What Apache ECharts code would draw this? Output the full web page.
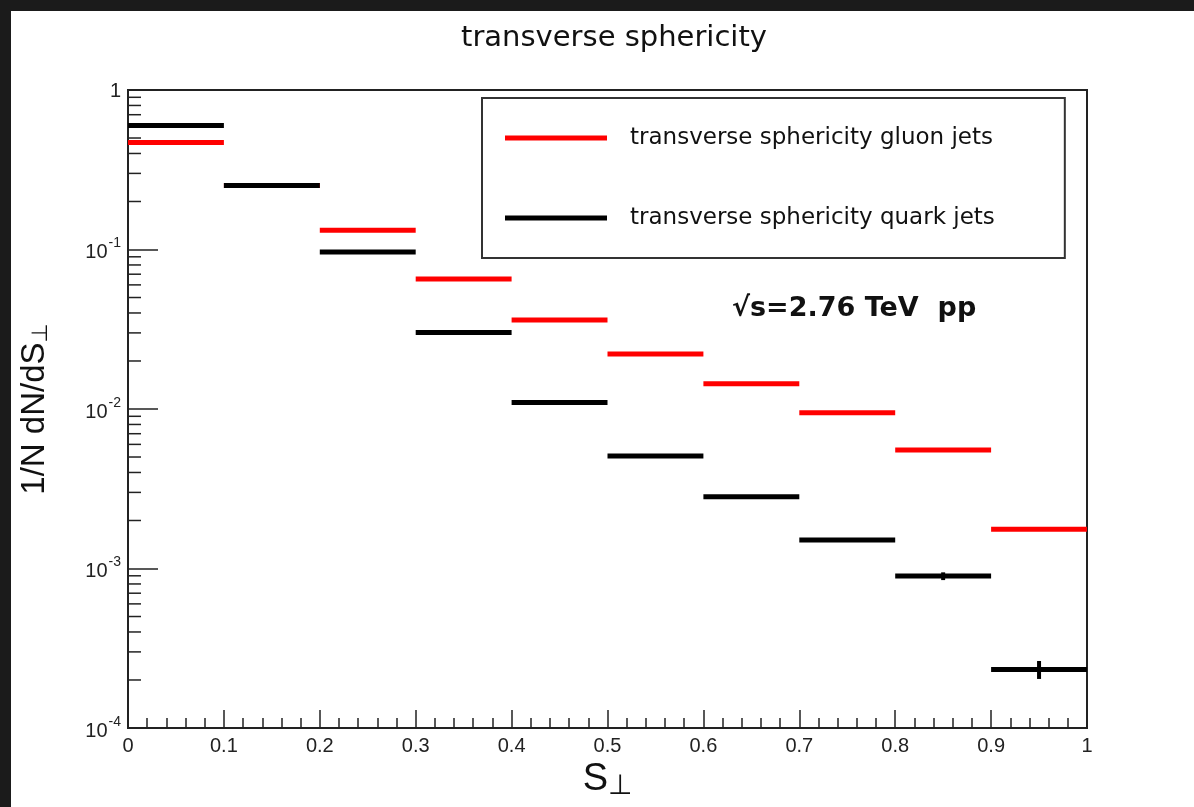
<!DOCTYPE html>
<html><head><meta charset="utf-8">
<script src="https://cdn.jsdelivr.net/npm/echarts@6/dist/echarts.min.js"></script>
<style>
html,body{margin:0;padding:0;background:#1b1b1b;width:1194px;height:807px;overflow:hidden}
#chart{position:absolute;left:11px;top:11px;width:1183px;height:796px;background:#fff}
</style></head><body><div id="chart"></div>
<script>
// ---- data ----
const binLow  = [0.0, 0.1, 0.2, 0.3, 0.4, 0.5, 0.6, 0.7, 0.8, 0.9];
const binHigh = [0.1, 0.2, 0.3, 0.4, 0.5, 0.6, 0.7, 0.8, 0.9, 1.0];
const gluonValues = [0.468, 0.252, 0.132, 0.0653, 0.0362, 0.0221, 0.0144, 0.00946, 0.00554, 0.00176];
const gluonErrors = [0.003, 0.001, 0.0008, 0.0004, 0.0002, 0.00015, 0.0001, 0.00007, 0.00005, 0.00004];
const quarkValues = [0.598, 0.252, 0.0965, 0.0302, 0.0110, 0.00508, 0.00282, 0.00151, 0.000896, 0.000233];
const quarkErrors = [0.002, 0.001, 0.0005, 0.0003, 0.0001, 0.00006, 0.00005, 0.00003, 0.00005, 0.00003];
const seriesNames = ['transverse sphericity gluon jets', 'transverse sphericity quark jets'];
const xTickLabels = ['0', '0.1', '0.2', '0.3', '0.4', '0.5', '0.6', '0.7', '0.8', '0.9', '1'];
const yTickExponents = [-4, -3, -2, -1, 0];
const yMinorMantissas = [2, 3, 4, 5, 6, 7, 8, 9];
const yMinorDecades = [1e-4, 1e-3, 1e-2, 1e-1];

function binData(vals, errs) {
  return vals.map((v, i) => [binLow[i], binHigh[i], v, errs[i]]);
}
const minorTickData = [];
yMinorDecades.forEach(d => yMinorMantissas.forEach(m => minorTickData.push([0, d * m])));

function renderBins(params, api) {
  const lo = api.value(0), hi = api.value(1), v = api.value(2), e = api.value(3);
  const p0 = api.coord([lo, v]), p1 = api.coord([hi, v]);
  const mid = (lo + hi) / 2;
  const e0 = api.coord([mid, v - e]), e1 = api.coord([mid, v + e]);
  const color = api.visual('color');
  return {
    type: 'group',
    children: [
      { type: 'line', shape: { x1: p0[0], y1: p0[1], x2: p1[0], y2: p1[1] }, style: { stroke: color, lineWidth: 5 } },
      { type: 'line', shape: { x1: e0[0], y1: e0[1], x2: e1[0], y2: e1[1] }, style: { stroke: color, lineWidth: 4 } }
    ]
  };
}
function renderMinorTick(params, api) {
  const p = api.coord([api.value(0), api.value(1)]);
  return { type: 'line', shape: { x1: p[0], y1: p[1], x2: p[0] + 13, y2: p[1] }, style: { stroke: '#222', lineWidth: 1.5 } };
}

const chart = echarts.init(document.getElementById('chart'), null, { renderer: 'canvas' });
chart.setOption({
  animation: false,
  backgroundColor: '#fff',
  title: [
    { text: 'transverse sphericity', left: 598, top: 8, textAlign: 'center',
      textStyle: { fontFamily: 'DejaVu Sans', fontSize: 29, fontWeight: 'normal', color: '#111' } },
    { text: '√s=2.76 TeV  pp', left: 716, top: 279,
      textStyle: { fontFamily: 'DejaVu Sans', fontSize: 27, fontWeight: 'bold', color: '#111' } }
  ],
  legend: {
    orient: 'vertical', left: 471, top: 87,
    padding: [27, 70, 27, 23],
    itemWidth: 102, itemHeight: 5, itemGap: 54,
    backgroundColor: '#fff', borderColor: '#333', borderWidth: 2,
    selectedMode: false,
    data: [{ name: seriesNames[0], icon: 'rect' }, { name: seriesNames[1], icon: 'rect' }],
    textStyle: { fontFamily: 'DejaVu Sans', fontSize: 23, color: '#111', lineHeight: 26, padding: [0, 0, 0, 18] }
  },
  grid: { left: 117, right: 107, top: 79, bottom: 79, containLabel: false, outerBoundsMode: 'none',
    show: true, borderColor: '#222', borderWidth: 2, backgroundColor: '#fff' },
  xAxis: {
    type: 'value', min: 0, max: 1, interval: 0.1,
    name: '{s|S}{sub|⊥}', nameLocation: 'middle', nameGap: 33, nameMoveOverlap: false,
    nameTextStyle: {
      rich: {
        s: { fontFamily: 'Liberation Sans', fontSize: 38, color: '#111', lineHeight: 40, verticalAlign: 'top' },
        sub: { fontFamily: 'DejaVu Sans', fontSize: 28, color: '#111', lineHeight: 28, padding: [24, 0, 0, 0], verticalAlign: 'bottom' }
      }
    },
    axisLine: { show: true, lineStyle: { color: '#222', width: 2 } },
    axisTick: { show: true, inside: true, length: 18, lineStyle: { color: '#222', width: 1.5 } },
    minorTick: { show: true, splitNumber: 5, length: 10, lineStyle: { color: '#222', width: 1.5 } },
    splitLine: { show: false },
    axisLabel: {
      margin: 8, fontFamily: 'Liberation Sans', fontSize: 20, color: '#222',
      formatter: v => xTickLabels[Math.round(v * 10)]
    }
  },
  yAxis: {
    type: 'log', logBase: 10, min: 1e-4, max: 1,
    name: '{m|1/N dN/dS}{sub|⊥}', nameLocation: 'middle', nameGap: 76, nameRotate: 90, nameMoveOverlap: false,
    nameTextStyle: {
      rich: {
        m: { fontFamily: 'Liberation Sans', fontSize: 33, color: '#111', lineHeight: 34, verticalAlign: 'top' },
        sub: { fontFamily: 'DejaVu Sans', fontSize: 22, color: '#111', lineHeight: 22, padding: [20, 0, 0, 0], verticalAlign: 'bottom' }
      }
    },
    axisLine: { show: true, lineStyle: { color: '#222', width: 2 } },
    axisTick: { show: true, inside: true, length: 30, lineStyle: { color: '#222', width: 1.5 } },
    splitLine: { show: false },
    axisLabel: {
      margin: 7, color: '#222',
      formatter: v => {
        const ex = Math.round(Math.log10(v));
        if (yTickExponents.indexOf(ex) < 0) return '';
        return ex === 0 ? '{b|1}' : '{b|10}{s|' + ex + '}';
      },
      rich: {
        b: { fontFamily: 'Liberation Sans', fontSize: 20, color: '#222', lineHeight: 22, verticalAlign: 'bottom' },
        s: { fontFamily: 'Liberation Sans', fontSize: 14, color: '#222', padding: [0, 0, 12, 1], verticalAlign: 'top' }
      }
    }
  },
  series: [
    { name: seriesNames[0], type: 'custom', renderItem: renderBins, itemStyle: { color: '#ff0000' },
      encode: { x: [0, 1], y: 2 }, data: binData(gluonValues, gluonErrors), z: 3 },
    { name: seriesNames[1], type: 'custom', renderItem: renderBins, itemStyle: { color: '#000000' },
      encode: { x: [0, 1], y: 2 }, data: binData(quarkValues, quarkErrors), z: 4 },
    { name: 'minorTicks', type: 'custom', renderItem: renderMinorTick, silent: true,
      encode: { x: 0, y: 1 }, data: minorTickData, z: 2 }
  ]
});
</script></body></html>
